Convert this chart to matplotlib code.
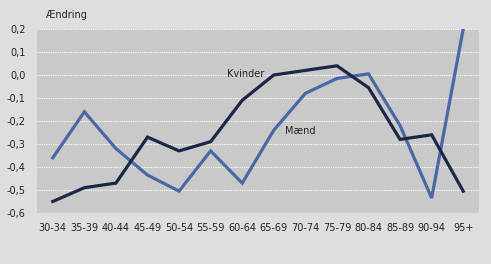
import numpy as np
import matplotlib.pyplot as plt

ages = ['30-34', '35-39', '40-44', '45-49', '50-54', '55-59', '60-64',
        '65-69', '70-74', '75-79', '80-84', '85-89', '90-94', '95+']
kvinder = [-0.55, -0.49, -0.47, -0.27, -0.33, -0.29, -0.11,
           0.00, 0.02, 0.04, -0.055, -0.28, -0.26, -0.505]
maend = [-0.36, -0.16, -0.32, -0.435, -0.505, -0.33, -0.47,
         -0.24, -0.08, -0.015, 0.005, -0.22, -0.535, 0.20]
yticks = [0.2, 0.1, 0.0, -0.1, -0.2, -0.3, -0.4, -0.5, -0.6]

fig = plt.figure(figsize=(4.91, 2.64), dpi=100, facecolor='#dedede')
ax = fig.add_axes([37/491, 1-213/264, 442/491, 184/264])
ax.set_facecolor('#c9c9c9')

x = np.arange(len(ages))
ax.plot(x, maend, color='#4a68a6', lw=2.3, solid_joinstyle='miter')
ax.plot(x, kvinder, color='#1c2747', lw=2.3, solid_joinstyle='miter')

ax.set_xlim(-0.5, len(ages) - 0.5)
ax.set_ylim(-0.6, 0.2)
ax.set_yticks(yticks)
ax.set_yticklabels(['{:.1f}'.format(v).replace('.', ',') for v in yticks])
ax.set_xticks(x)
ax.set_xticklabels(ages)
ax.grid(axis='y', color='white', lw=0.8, ls=(0, (1, 1)))
ax.set_axisbelow(True)
for s in ax.spines.values():
    s.set_visible(False)
ax.tick_params(length=0, labelsize=7, colors='#222222', pad=7)
ax.tick_params(axis='y', pad=8)

fig.text(46/491, 1-15/264, 'Ændring', fontsize=7, color='#222222',
         ha='left', va='center')
ax.text(6.1, 0.005, 'Kvinder', fontsize=7, color='#222222', ha='center', va='center')
ax.text(7.84, -0.245, 'Mænd', fontsize=7, color='#222222', ha='center', va='center')

fig.savefig('out.png', dpi=100, facecolor=fig.get_facecolor())
